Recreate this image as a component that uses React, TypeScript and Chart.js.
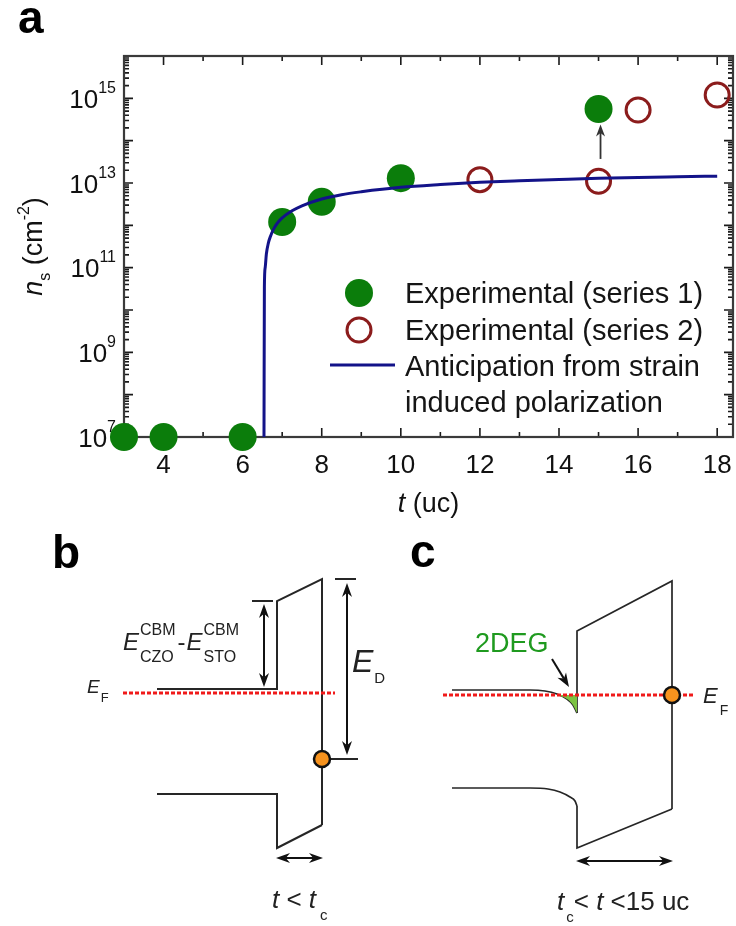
import React, { useEffect, useRef } from "react";
import { Chart, registerables } from "chart.js";

Chart.register(...registerables);

const FONT = "'Liberation Sans', Arial, Helvetica, sans-serif";

// ---------------- Panel a data ----------------
const T_SERIES1 = [3, 4, 6, 7, 8, 10, 15];
const NS_SERIES1 = [1e7, 1e7, 1e7, 1.2e12, 3.6e12, 1.3e13, 5.6e14];
const T_SERIES2 = [12, 15, 16, 18];
const NS_SERIES2 = [1.2e13, 1.1e13, 5.3e14, 1.2e15];
const T_MODEL = [6.54, 6.55, 6.57, 6.6, 6.65, 6.7, 6.8, 6.9, 7, 7.25, 7.5, 8, 8.5, 9, 10, 11, 12, 13, 14, 15, 16, 17, 18];
const NS_MODEL = [1e7, 3.5e10, 1.0e11, 2.1e11, 3.8e11, 5.4e11, 8.7e11, 1.2e12, 1.5e12, 2.2e12, 2.9e12, 4.2e12, 5.3e12, 6.2e12, 7.9e12, 9.2e12, 1.04e13, 1.13e13, 1.21e13, 1.29e13, 1.35e13, 1.4e13, 1.45e13];
const X_MIN = 3;
const X_MAX = 18.4;
const Y_MIN = 1e7;
const Y_MAX = 1e16;
const X_TICKS_MAJOR = [4, 6, 8, 10, 12, 14, 16, 18];
const X_TICKS_MINOR = [5, 7, 9, 11, 13, 15, 17];
const Y_DECADES = [7, 8, 9, 10, 11, 12, 13, 14, 15, 16];
const Y_LABEL_EXPONENTS = [7, 9, 11, 13, 15];
const LEGEND_LABELS = ["Experimental (series 1)", "Experimental (series 2)", "Anticipation from strain", "induced polarization"];
const ARROW_A_T = 15.05;
const ARROW_A_FROM = 3.7e13;
const ARROW_A_TO = 2.4e14;

// ---------------- Panels b, c data (schematic: position units, energy units rel. to E_F) ----------------
const B_CB_X = [15.7, 27.7, 27.7, 32.2, 32.2];
const B_CB_Y = [0.4, 0.4, 9.2, 11.4, -13.2];
const B_VB_X = [15.7, 27.7, 27.7, 32.2];
const B_VB_Y = [-10.1, -10.1, -15.5, -13.2];
const B_EF_X = [12.3, 33.5];
const B_EF_Y = [0, 0];
const B_DONOR = [32.2, -6.6];
const B_MARKS = [
  [33.5, 35.6, 11.4],
  [33.1, 35.8, -6.6],
  [25.2, 27.3, 9.2],
];
const B_ARROWS = [
  [34.7, 11.0, 34.7, -6.2, 1],
  [26.4, 8.9, 26.4, 0.6, 1],
  [27.6, -16.5, 32.3, -16.5, 1],
];

const C_CB_BEND_X = [45.2, 53.0, 54.5, 55.7, 56.7, 57.3, 57.7];
const C_CB_BEND_Y = [0.3, 0.3, 0.2, -0.1, -0.6, -1.2, -2.0];
const C_CB_WALL_X = [57.7, 57.7, 67.2, 67.2];
const C_CB_WALL_Y = [-2.0, 6.2, 11.2, -11.6];
const C_VB_BEND_X = [45.2, 53.0, 54.8, 56.0, 57.0, 57.5, 57.7];
const C_VB_BEND_Y = [-9.5, -9.5, -9.6, -9.9, -10.4, -10.8, -11.3];
const C_VB_WALL_X = [57.7, 57.7, 67.2];
const C_VB_WALL_Y = [-11.3, -15.5, -11.6];
const C_EF_X = [44.3, 69.5];
const C_EF_Y = [-0.2, -0.2];
const C_2DEG_X = [55.8, 56.7, 57.3, 57.7];
const C_2DEG_Y = [-0.2, -0.6, -1.2, -2.0];
const C_DONOR = [67.2, -0.2];
const C_ARROWS = [
  [55.2, 3.4, 56.9, 0.6, 0],
  [57.6, -16.8, 67.3, -16.8, 1],
];

// ---------------- helpers ----------------
type Seg = {
  t?: string;
  size: number;
  italic?: boolean;
  bold?: boolean;
  dy?: number;
  dx?: number;
  color?: string;
  sup?: string;
  sub?: string;
  supDy?: number;
  subDy?: number;
};

function fontOf(s: Seg) {
  return `${s.italic ? "italic " : ""}${s.bold ? "bold " : ""}${s.size}px ${FONT}`;
}

function segWidth(ctx: CanvasRenderingContext2D, s: Seg) {
  ctx.font = fontOf(s);
  if (s.sup !== undefined || s.sub !== undefined) {
    const a = s.sup ? ctx.measureText(s.sup).width : 0;
    const b = s.sub ? ctx.measureText(s.sub).width : 0;
    return Math.max(a, b);
  }
  return ctx.measureText(s.t || "").width;
}

function drawRich(ctx: CanvasRenderingContext2D, x: number, y: number, segs: Seg[], align: string = "left", color = "#111") {
  const widths = segs.map((s) => segWidth(ctx, s));
  const total = segs.reduce((acc, s, i) => acc + (s.dx || 0) + widths[i], 0);
  let cx = align === "center" ? x - total / 2 : align === "right" ? x - total : x;
  ctx.textAlign = "left";
  ctx.textBaseline = "alphabetic";
  segs.forEach((s, i) => {
    cx += s.dx || 0;
    ctx.font = fontOf(s);
    ctx.fillStyle = s.color || color;
    if (s.sup !== undefined || s.sub !== undefined) {
      if (s.sup) ctx.fillText(s.sup, cx, y + (s.supDy || 0));
      if (s.sub) ctx.fillText(s.sub, cx, y + (s.subDy || 0));
    } else {
      ctx.fillText(s.t || "", cx, y + (s.dy || 0));
    }
    cx += widths[i];
  });
}

function arrowHead(ctx: CanvasRenderingContext2D, x1: number, y1: number, x2: number, y2: number, len: number, half: number) {
  const ang = Math.atan2(y2 - y1, x2 - x1);
  ctx.save();
  ctx.translate(x2, y2);
  ctx.rotate(ang);
  ctx.beginPath();
  ctx.moveTo(0, 0);
  ctx.lineTo(-len, -half);
  ctx.lineTo(-len * 0.7, 0);
  ctx.lineTo(-len, half);
  ctx.closePath();
  ctx.fill();
  ctx.restore();
}

function drawArrow(ctx: CanvasRenderingContext2D, x1: number, y1: number, x2: number, y2: number, both: boolean, len: number, half: number, lw: number, color: string) {
  const d = Math.hypot(x2 - x1, y2 - y1);
  const ux = (x2 - x1) / d;
  const uy = (y2 - y1) / d;
  const s = len * 0.7;
  ctx.save();
  ctx.strokeStyle = color;
  ctx.fillStyle = color;
  ctx.lineWidth = lw;
  ctx.beginPath();
  ctx.moveTo(both ? x1 + ux * s : x1, both ? y1 + uy * s : y1);
  ctx.lineTo(x2 - ux * s, y2 - uy * s);
  ctx.stroke();
  arrowHead(ctx, x1, y1, x2, y2, len, half);
  if (both) arrowHead(ctx, x2, y2, x1, y1, len, half);
  ctx.restore();
}

const pts = (xs: number[], ys: number[]) => xs.map((x, i) => ({ x, y: ys[i] }));

// ---------------- Panel a plugin ----------------
const panelAPlugin = {
  id: "panelA",
  beforeDatasetsDraw(chart: any) {
    const { ctx, chartArea: a, scales } = chart;
    const xs = scales.x;
    const ys = scales.y;
    ctx.save();
    // ticks
    ctx.strokeStyle = "#1a1a1a";
    ctx.lineWidth = 1.6;
    const vt = (px: number, len: number) => {
      ctx.beginPath();
      ctx.moveTo(px, a.bottom);
      ctx.lineTo(px, a.bottom - len);
      ctx.moveTo(px, a.top);
      ctx.lineTo(px, a.top + len);
      ctx.stroke();
    };
    const ht = (py: number, len: number) => {
      ctx.beginPath();
      ctx.moveTo(a.left, py);
      ctx.lineTo(a.left + len, py);
      ctx.moveTo(a.right, py);
      ctx.lineTo(a.right - len, py);
      ctx.stroke();
    };
    X_TICKS_MAJOR.forEach((v) => vt(xs.getPixelForValue(v), 9));
    X_TICKS_MINOR.forEach((v) => vt(xs.getPixelForValue(v), 5));
    Y_DECADES.forEach((e) => {
      ht(ys.getPixelForValue(Math.pow(10, e)), 9);
      if (e < Y_DECADES[Y_DECADES.length - 1]) {
        for (let k = 2; k <= 9; k++) ht(ys.getPixelForValue(k * Math.pow(10, e)), 5);
      }
    });
    // frame
    ctx.strokeStyle = "#3a3a3a";
    ctx.lineWidth = 2.2;
    ctx.strokeRect(a.left, a.top, a.right - a.left, a.bottom - a.top);

    // x tick labels
    X_TICKS_MAJOR.forEach((v) => {
      drawRich(ctx, xs.getPixelForValue(v), a.bottom + 36, [{ t: String(v), size: 26 }], "center");
    });
    // y tick labels
    Y_LABEL_EXPONENTS.forEach((e) => {
      const py = ys.getPixelForValue(Math.pow(10, e));
      drawRich(ctx, a.left - 8, py + 9.5, [{ t: "10", size: 26 }, { t: String(e), size: 16, dy: -15 }], "right");
    });
    // x title
    drawRich(ctx, (a.left + a.right) / 2, 512, [{ t: "t", size: 27, italic: true }, { t: " (uc)", size: 27 }], "center");
    // y title rotated
    ctx.save();
    ctx.translate(42, (a.top + a.bottom) / 2);
    ctx.rotate(-Math.PI / 2);
    drawRich(ctx, 0, 0, [
      { t: "n", size: 27, italic: true },
      { t: "s", size: 16, dy: 8 },
      { t: " (cm", size: 27 },
      { t: "-2", size: 16, dy: -13 },
      { t: ")", size: 27 },
    ], "center");
    ctx.restore();
    // panel label
    drawRich(ctx, 18, 33, [{ t: "a", size: 46, bold: true }], "left", "#000");
    ctx.restore();
  },
  afterDatasetsDraw(chart: any) {
    const { ctx, scales } = chart;
    const xs = scales.x;
    const ys = scales.y;
    ctx.save();
    // arrow at t = 15
    const ax = xs.getPixelForValue(ARROW_A_T);
    drawArrow(ctx, ax, ys.getPixelForValue(ARROW_A_FROM), ax, ys.getPixelForValue(ARROW_A_TO), false, 12, 4.5, 1.8, "#333");
    // legend
    const ds = chart.data.datasets;
    const symX = 359;
    ctx.fillStyle = ds[1].pointBackgroundColor;
    ctx.beginPath();
    ctx.arc(symX, 293, 14, 0, Math.PI * 2);
    ctx.fill();
    ctx.strokeStyle = ds[2].pointBorderColor;
    ctx.lineWidth = 3;
    ctx.beginPath();
    ctx.arc(symX, 330, 12, 0, Math.PI * 2);
    ctx.stroke();
    ctx.strokeStyle = ds[0].borderColor;
    ctx.lineWidth = 3;
    ctx.beginPath();
    ctx.moveTo(330, 365);
    ctx.lineTo(395, 365);
    ctx.stroke();
    const baselines = [303, 339.5, 376, 412];
    LEGEND_LABELS.forEach((s, i) => drawRich(ctx, 405, baselines[i], [{ t: s, size: 29 }], "left", "#151515"));
    ctx.restore();
  },
};

// ---------------- Panels b/c plugin ----------------
const T_LABELS: { x: number; y: number; segs: Seg[]; color?: string }[] = [
  { x: 5.2, y: 12.5, segs: [{ t: "b", size: 46, bold: true }], color: "#000" },
  { x: 41.0, y: 12.6, segs: [{ t: "c", size: 46, bold: true }], color: "#000" },
  { x: 8.7, y: 0.0, segs: [{ t: "E", size: 19, italic: true }, { t: "F", size: 13, dy: 8.5, dx: 1 }] },
  {
    x: 12.3,
    y: 4.3,
    segs: [
      { t: "E", size: 24, italic: true },
      { size: 16, sup: "CBM", sub: "CZO", supDy: -15, subDy: 12, dx: 1 },
      { t: "-", size: 24, dx: 2 },
      { t: "E", size: 24, italic: true, dx: 1 },
      { size: 16, sup: "CBM", sub: "STO", supDy: -15, subDy: 12, dx: 1 },
    ],
  },
  { x: 35.2, y: 2.1, segs: [{ t: "E", size: 32, italic: true }, { t: "D", size: 15, dy: 11, dx: 1 }] },
  {
    x: 27.2,
    y: -21.5,
    segs: [
      { t: "t", size: 26, italic: true },
      { t: " < ", size: 26 },
      { t: "t", size: 26, italic: true },
      { t: "c", size: 15, dy: 12, dx: 4 },
    ],
  },
  { x: 47.5, y: 4.1, segs: [{ t: "2DEG", size: 27, color: "#1f9a1f" }] },
  { x: 70.3, y: -1.0, segs: [{ t: "E", size: 22, italic: true }, { t: "F", size: 14, dy: 12, dx: 2 }] },
  {
    x: 55.7,
    y: -21.7,
    segs: [
      { t: "t", size: 26, italic: true },
      { t: "c", size: 15, dy: 12, dx: 2 },
      { t: "< ", size: 26 },
      { t: "t", size: 26, italic: true },
      { t: " <15 uc", size: 26 },
    ],
  },
];

const panelBCPlugin = {
  id: "panelBC",
  afterDatasetsDraw(chart: any) {
    const { ctx, scales } = chart;
    const xs = scales.x;
    const ys = scales.y;
    ctx.save();
    [...B_ARROWS, ...C_ARROWS].forEach((r) => {
      drawArrow(
        ctx,
        xs.getPixelForValue(r[0]),
        ys.getPixelForValue(r[1]),
        xs.getPixelForValue(r[2]),
        ys.getPixelForValue(r[3]),
        r[4] === 1,
        14,
        5,
        2,
        "#111"
      );
    });
    T_LABELS.forEach((l) => drawRich(ctx, xs.getPixelForValue(l.x), ys.getPixelForValue(l.y), l.segs, "left", l.color || "#222"));
    ctx.restore();
  },
};

export default function App() {
  const refA = useRef<HTMLCanvasElement>(null);
  const refB = useRef<HTMLCanvasElement>(null);

  useEffect(() => {
    document.body.style.margin = "0";
    document.body.style.background = "#fff";
    const common = {
      responsive: false,
      animation: false as const,
      events: [] as any[],
      plugins: { legend: { display: false }, tooltip: { enabled: false } },
    };

    const chartA = new Chart(refA.current as HTMLCanvasElement, {
      type: "scatter",
      data: {
        datasets: [
          {
            label: "Anticipation from strain induced polarization",
            data: pts(T_MODEL, NS_MODEL),
            showLine: true,
            borderColor: "#131389",
            borderWidth: 3,
            pointRadius: 0,
            cubicInterpolationMode: "monotone",
          } as any,
          {
            label: "Experimental (series 1)",
            data: pts(T_SERIES1, NS_SERIES1),
            showLine: false,
            pointRadius: 14,
            pointBackgroundColor: "#0b7d0b",
            pointBorderColor: "#0b7d0b",
            pointBorderWidth: 0,
            clip: false,
          },
          {
            label: "Experimental (series 2)",
            data: pts(T_SERIES2, NS_SERIES2),
            showLine: false,
            pointRadius: 12,
            pointBackgroundColor: "rgba(255,255,255,0)",
            pointBorderColor: "#8b1c1c",
            pointBorderWidth: 3,
            clip: false,
          },
        ],
      },
      options: {
        ...common,
        layout: { autoPadding: false, padding: { left: 124, right: 3, top: 56, bottom: 83 } },
        scales: {
          x: { type: "linear", min: X_MIN, max: X_MAX, display: false },
          y: { type: "logarithmic", min: Y_MIN, max: Y_MAX, display: false },
        },
      } as any,
      plugins: [panelAPlugin],
    });

    const black = (xs: number[], ys: number[], w = 2, mono = false) =>
      ({
        data: pts(xs, ys),
        showLine: true,
        borderColor: "#262626",
        borderWidth: w,
        pointRadius: 0,
        cubicInterpolationMode: mono ? "monotone" : "default",
      } as any);
    const red = (xs: number[], ys: number[]) =>
      ({
        data: pts(xs, ys),
        showLine: true,
        borderColor: "#f01a1a",
        borderWidth: 3,
        borderDash: [4, 2],
        pointRadius: 0,
      } as any);

    const chartB = new Chart(refB.current as HTMLCanvasElement, {
      type: "scatter",
      data: {
        datasets: [
          {
            data: [
              { x: B_DONOR[0], y: B_DONOR[1] },
              { x: C_DONOR[0], y: C_DONOR[1] },
            ],
            showLine: false,
            pointRadius: 8,
            pointBackgroundColor: "#f7931e",
            pointBorderColor: "#111",
            pointBorderWidth: 2.5,
            clip: false,
          },
          red(B_EF_X, B_EF_Y),
          red(C_EF_X, C_EF_Y),
          {
            data: pts(C_2DEG_X, C_2DEG_Y),
            showLine: true,
            borderWidth: 0,
            borderColor: "rgba(0,0,0,0)",
            backgroundColor: "#7cc242",
            fill: { value: C_EF_Y[0] },
            pointRadius: 0,
            cubicInterpolationMode: "monotone",
          } as any,
          black(B_CB_X, B_CB_Y),
          black(B_VB_X, B_VB_Y),
          ...B_MARKS.map((m) => black([m[0], m[1]], [m[2], m[2]])),
          black(C_CB_BEND_X, C_CB_BEND_Y, 1.7, true),
          black(C_CB_WALL_X, C_CB_WALL_Y, 1.7),
          black(C_VB_BEND_X, C_VB_BEND_Y, 1.7, true),
          black(C_VB_WALL_X, C_VB_WALL_Y, 1.7),
        ],
      },
      options: {
        ...common,
        layout: { autoPadding: false, padding: 0 },
        scales: {
          x: { type: "linear", min: 0, max: 73.6, display: false },
          y: { type: "linear", min: -23.3, max: 17.3, display: false },
        },
      } as any,
      plugins: [panelBCPlugin],
    });

    return () => {
      chartA.destroy();
      chartB.destroy();
    };
  }, []);

  return (
    <div style={{ width: 736, height: 926, background: "#fff", position: "relative" }}>
      <canvas ref={refA} width={736} height={520} style={{ display: "block" }} />
      <canvas ref={refB} width={736} height={406} style={{ display: "block" }} />
    </div>
  );
}
